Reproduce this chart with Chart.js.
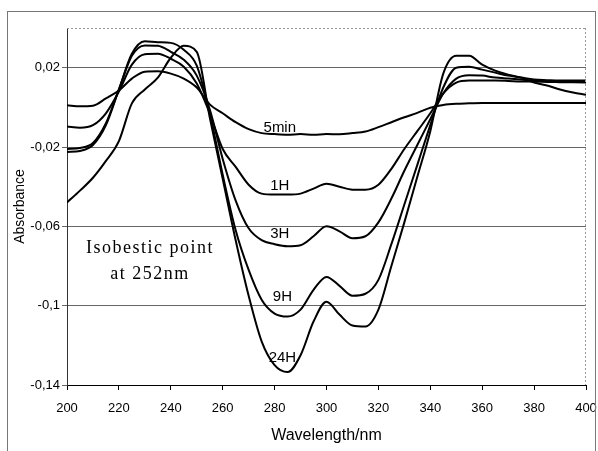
<!DOCTYPE html>
<html>
<head>
<meta charset="utf-8">
<script src="https://cdn.jsdelivr.net/npm/chart.js@4.4.1/dist/chart.umd.min.js"></script>
<style>
  html, body { margin: 0; padding: 0; background: #fff; }
  #wrap { width: 598px; height: 451px; position: relative; }
</style>
</head>
<body>
<div id="wrap"><canvas id="uvChart"></canvas></div>
<script>
// ── Data: UV difference spectra (absorbance vs wavelength) ──
var wavelengths = [200,205,210,215,220,225,230,235,240,245,250,255,260,265,270,275,280,285,290,295,
                   300,305,310,315,320,325,330,335,340,345,350,355,360,365,370,375,380,385,390,395,400];

var abs5min = [0.001,0.0005,0.0008,0.0045,0.0085,0.0145,0.018,0.0182,0.017,0.0145,
               0.010,0.0015,-0.003,-0.0075,-0.011,-0.013,-0.0135,-0.0138,-0.0135,-0.0138,
               -0.0135,-0.0136,-0.013,-0.0122,-0.010,-0.0075,-0.005,-0.0028,-0.0002,0.0012,
               0.0018,0.002,0.0022,0.0022,0.0022,0.0022,0.0022,0.0022,0.0022,0.0022,0.0022];
var abs1H   = [-0.0097,-0.0103,-0.009,-0.003,0.008,0.0215,0.0268,0.027,0.0245,0.0205,
               0.012,-0.003,-0.021,-0.030,-0.039,-0.0435,-0.044,-0.044,-0.0435,-0.041,
               -0.0385,-0.040,-0.0415,-0.0415,-0.039,-0.031,-0.021,-0.012,-0.003,0.007,
               0.0125,0.0135,0.0135,0.0135,0.0133,0.013,0.013,0.0128,0.0127,0.0126,0.0125];
var abs3H   = [-0.021,-0.0205,-0.018,-0.008,0.009,0.026,0.0312,0.031,0.028,0.024,
               0.016,-0.001,-0.026,-0.047,-0.061,-0.067,-0.069,-0.070,-0.0695,-0.065,
               -0.060,-0.0625,-0.066,-0.065,-0.058,-0.046,-0.032,-0.019,-0.006,0.007,
               0.0145,0.0162,0.016,0.015,0.0145,0.014,0.0135,0.0132,0.013,0.013,0.013];
var abs9H   = [-0.0225,-0.022,-0.019,-0.009,0.009,0.027,0.0333,0.0328,0.0325,0.029,
               0.021,-0.003,-0.034,-0.062,-0.082,-0.097,-0.104,-0.1055,-0.102,-0.092,
               -0.0855,-0.090,-0.095,-0.094,-0.087,-0.069,-0.049,-0.029,-0.009,0.010,
               0.020,0.0205,0.019,0.0175,0.016,0.015,0.014,0.0137,0.0135,0.0135,0.0135];
var abs24H  = [-0.048,-0.042,-0.0355,-0.027,-0.017,0.002,0.009,0.015,0.025,0.031,
               0.028,-0.005,-0.036,-0.067,-0.095,-0.118,-0.130,-0.1335,-0.125,-0.108,
               -0.098,-0.1045,-0.110,-0.1105,-0.102,-0.080,-0.058,-0.035,-0.012,0.017,
               0.026,0.026,0.0215,0.0185,0.0165,0.015,0.0125,0.011,0.009,0.0075,0.0063];

var yTicks = [-0.14, -0.1, -0.06, -0.02, 0.02];

// curve labels, anchored in data units [wavelength, absorbance]
var curveLabels = [
    { text: '5min', at: [282, -0.0103] },
    { text: '1H',   at: [282, -0.0395] },
    { text: '3H',   at: [282, -0.0638] },
    { text: '9H',   at: [283, -0.0955] },
    { text: '24H',  at: [283, -0.1263] }
];
var noteLines = ['Isobestic point', 'at 252nm'];

function toPoints(vals) {
    return wavelengths.map(function(w, i) { return { x: w, y: vals[i] }; });
}

function series(label, vals) {
    return {
        label: label, data: toPoints(vals),
        borderColor: '#000', borderWidth: 2, pointRadius: 0,
        cubicInterpolationMode: 'monotone', fill: false
    };
}

// ── Frame, labels and note drawn over the chart ──
var decorPlugin = {
    id: 'decor',
    beforeDraw: function(chart) {
        var ctx = chart.ctx;
        ctx.save();
        ctx.fillStyle = '#fff';
        ctx.fillRect(0, 0, chart.width, chart.height);
        ctx.restore();
    },
    afterDraw: function(chart) {
        var ctx = chart.ctx, a = chart.chartArea;
        var xs = chart.scales.x, ys = chart.scales.y;
        ctx.save();
        // outer chart border
        ctx.strokeStyle = '#777';
        ctx.lineWidth = 1;
        ctx.strokeRect(7.5, 11.5, 588, 460);
        // plot area top / right
        ctx.strokeStyle = '#999';
        ctx.setLineDash([2, 2]);
        ctx.beginPath();
        ctx.moveTo(a.left, a.top + 0.5); ctx.lineTo(a.right, a.top + 0.5);
        ctx.moveTo(a.right - 0.5, a.top); ctx.lineTo(a.right - 0.5, a.bottom);
        ctx.stroke();
        ctx.setLineDash([]);

        // curve labels
        ctx.fillStyle = '#000';
        ctx.font = '15px "Liberation Sans", Arial, sans-serif';
        ctx.textAlign = 'center';
        ctx.textBaseline = 'middle';
        curveLabels.forEach(function(l) {
            ctx.fillText(l.text, xs.getPixelForValue(l.at[0]), ys.getPixelForValue(l.at[1]));
        });

        // isobestic note
        ctx.font = '18px "Liberation Serif", "Times New Roman", serif';
        if ('letterSpacing' in ctx) ctx.letterSpacing = '1.5px';
        var nx = xs.getPixelForValue(232);
        ctx.fillText(noteLines[0], nx, ys.getPixelForValue(-0.0713));
        ctx.fillText(noteLines[1], nx, ys.getPixelForValue(-0.0842));
        ctx.restore();
    }
};

document.addEventListener('DOMContentLoaded', function() {
    var el = document.getElementById('uvChart');
    new Chart(el.getContext('2d'), {
        type: 'line',
        data: {
            datasets: [
                series('5min', abs5min),
                series('1H', abs1H),
                series('3H', abs3H),
                series('9H', abs9H),
                series('24H', abs24H)
            ]
        },
        options: {
            responsive: true, maintainAspectRatio: false,
            devicePixelRatio: 1,
            animation: false,
            layout: { padding: { top: 28, right: 12, left: 0, bottom: 0 } },
            plugins: { legend: { display: false }, tooltip: { enabled: false } },
            scales: {
                x: {
                    type: 'linear', min: 200, max: 400,
                    afterFit: function(s) { s.height = 66; s.paddingLeft = 0; s.paddingRight = 0; },
                    border: { display: true, color: '#000', width: 1 },
                    grid: { drawOnChartArea: false, drawTicks: true, tickLength: 5, color: '#000' },
                    ticks: { stepSize: 20, padding: 11, color: '#000', maxRotation: 0,
                             font: { family: '"Liberation Sans", Arial, sans-serif', size: 13 } },
                    title: { display: true, text: 'Wavelength/nm', color: '#000',
                             padding: { top: 0, bottom: 6 },
                             font: { family: '"Liberation Sans", Arial, sans-serif', size: 16 } }
                },
                y: {
                    type: 'linear', min: -0.14, max: 0.04,
                    afterFit: function(s) { s.width = 67; s.paddingTop = 0; s.paddingBottom = 0; },
                    afterBuildTicks: function(s) {
                        s.ticks = yTicks.map(function(v) { return { value: v }; });
                    },
                    border: { display: true, color: '#333', width: 1 },
                    grid: { color: '#666', lineWidth: 1, tickLength: 5 },
                    ticks: {
                        padding: 2, color: '#000',
                        font: { family: '"Liberation Sans", Arial, sans-serif', size: 13 },
                        callback: function(v) { return String(v).replace('.', ','); }
                    },
                    title: { display: true, text: 'Absorbance', color: '#000',
                             padding: { top: 12, bottom: 0 },
                             font: { family: '"Liberation Sans", Arial, sans-serif', size: 14 } }
                }
            }
        },
        plugins: [decorPlugin]
    });
});
</script>
</body>
</html>
